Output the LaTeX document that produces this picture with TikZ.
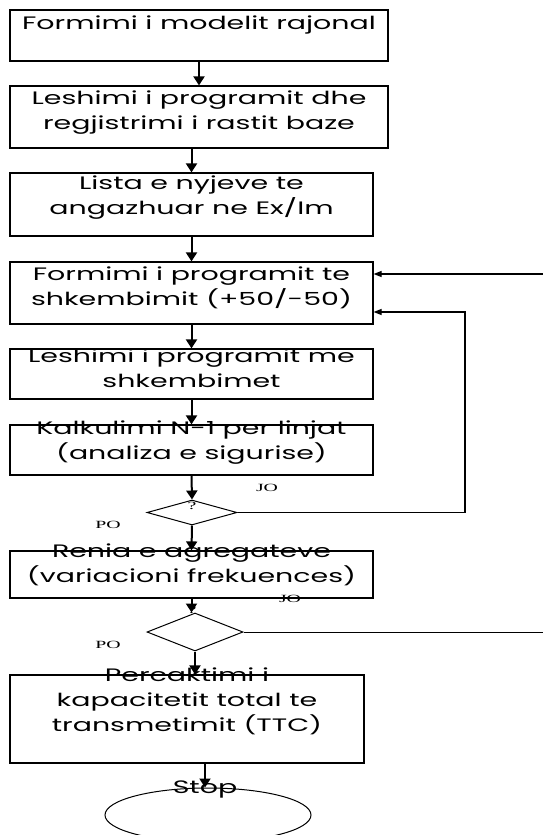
\documentclass[tikz,border=0pt]{standalone}
\usepackage{fontspec}
\setmainfont{Poppins}[FakeStretch=1.58]
\newfontfamily\labfont{Liberation Serif}[FakeStretch=1.8]
\usetikzlibrary{shapes.geometric,arrows.meta}

\begin{document}
\begin{tikzpicture}[x=1pt,y=-1pt, font=\fontsize{18}{25}\selectfont,
  box/.style={draw,line width=1.2pt,inner sep=0pt},
  txt/.style={align=center,inner sep=0pt},
  arr/.style={line width=2pt,-{Triangle[width=11pt,length=9pt]}},
  back/.style={line width=1.2pt,-{Triangle[width=6pt,length=8pt]}},
  lab/.style={font=\labfont\fontsize{11}{13}\selectfont,inner sep=0pt}]
\useasboundingbox (0,0) rectangle (543,835);

% boxes
\foreach \n/\cx/\cy/\w/\h in {b1/199/35.5/378/51, b2/199/117/378/62,
  b3/191.5/204.5/363/63, b4/191.5/293/363/62, b5/191.5/374/363/50,
  b6/191.5/450/363/50, b7/191.5/574.5/363/47, b8/187/719/354/88}
\node[box,minimum width=\w,minimum height=\h] (\n) at (\cx,\cy) {};

\node[draw,diamond,line width=1pt,inner sep=0pt,minimum width=90,minimum height=25] (d1) at (192,512.5) {};
\node[draw,diamond,line width=1pt,inner sep=0pt,minimum width=96,minimum height=38] (d2) at (195,632) {};
\node[draw,ellipse,line width=1pt,minimum width=206,minimum height=54] (ell) at (208,815) {};

% texts
\node[txt] (t1) at (199,25) {Formimi i modelit rajonal};
\node[txt] (t2) at (199,113) {Leshimi i programit dhe\\regjistrimi i rastit baze};
\node[txt] (t3) at (191.5,197.5) {Lista e nyjeve te\\angazhuar ne Ex/Im};
\node[txt] (t4) at (191.5,288) {Formimi i programit te\\shkembimit (+50/-50)};
\node[txt] (t5) at (191.5,368) {Leshimi i programit me\\shkembimet};
\node[txt] (t6) at (191.5,443) {Kalkulimi N-1 per linjat\\(analiza e sigurise)};
\node[txt] (t7) at (191.5,565) {Renia e agregateve\\(variacioni frekuences)};
\node[txt] (t8) at (187,701) {Percaktimi i\\kapacitetit total te\\transmetimit (TTC)};
\node[txt] (st) at (205,789) {Stop};

\node[lab] (q1) at (192,506) {?};
\node[lab] (q2) at (192,610) {?};
\node[lab] (jo1) at (267,488) {JO};
\node[lab] (po1) at (108,525) {PO};
\node[lab] (jo2) at (290,599) {JO};
\node[lab] (po2) at (108,645) {PO};

% arrows
\foreach \a/\b in {b1/b2,b3/b4,b4/b5,b5/b6,b6/d1,d1/b7}
\draw[arr] (\a.south) -- (\b.north);
\draw[arr] (b2.south -| b3.north) -- (b3.north);
\draw[arr] (b7.south) -- (b7.south |- d2.north);
\draw[arr] (d2.south) -- (d2.south |- b8.north);
\draw[arr] (b8.south -| st.north) -- (st.north |- ell.north);

% feedback
\coordinate (r1) at (465,312);
\coordinate (e1) at (543,274);
\coordinate (e2) at (543,626);
\draw[back] (d1.east) -| (r1) -- (b4.east |- r1);
\draw[back] (e1) -- (b4.east |- e1);
\draw[line width=1pt] (d2.east) -- (d2.east -| e2);

\end{tikzpicture}
\end{document}
